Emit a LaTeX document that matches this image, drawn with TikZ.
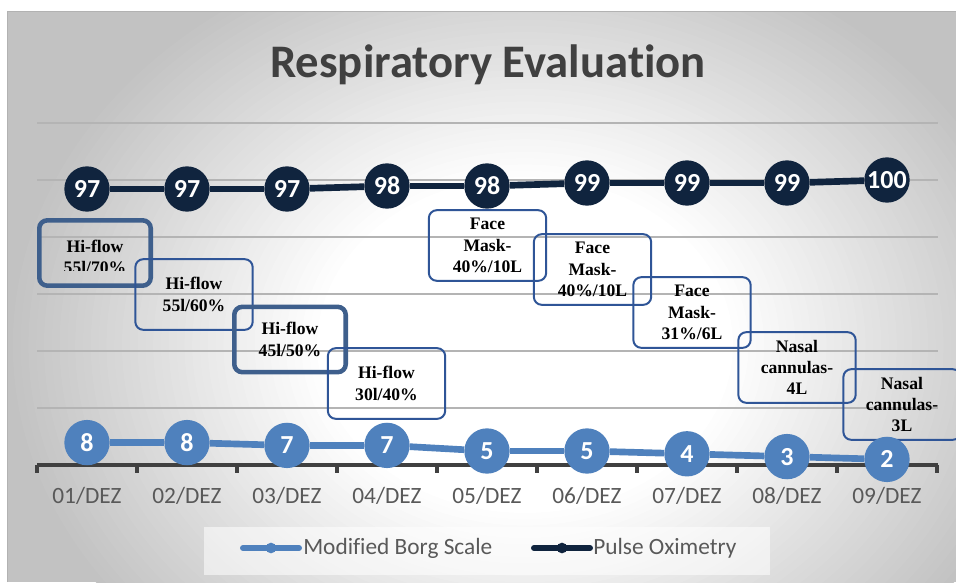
\documentclass[tikz,border=0pt]{standalone}
\usepackage{fontspec}
\setmainfont{Carlito}[Ligatures=NoCommon]
\newfontfamily\notefont{Liberation Serif}
\definecolor{navy}{HTML}{10243E}
\definecolor{borgblue}{HTML}{4F81BD}
\definecolor{notethin}{HTML}{2F5597}
\definecolor{notethick}{HTML}{3E5F8C}
\definecolor{gridgray}{HTML}{B4B4B4}
\definecolor{axisgray}{HTML}{404040}
\definecolor{labelgray}{HTML}{595959}
\definecolor{bggray}{HTML}{C2C2C2}
\begin{document}
\begin{tikzpicture}[x=0.75pt, y=-0.75pt,
	pulsept/.style={circle, fill=navy, text=white, minimum size=34pt, inner sep=0pt, font=\bfseries\fontsize{19.5}{19.5}\selectfont},
	borgpt/.style={pulsept, fill=borgblue},
	pulseline/.style={navy, line width=5pt},
	borgline/.style={borgblue, line width=5pt},
	notebox/.style={draw=notethin, line width=1.5pt, rounded corners=6pt, align=center, inner sep=0pt, font=\notefont\bfseries\fontsize{13.2}{16}\selectfont, text=black, minimum width=88pt, minimum height=53pt},
	notethickbox/.style={notebox, draw=notethick, line width=3.4pt, minimum width=83.6pt, minimum height=49pt},
	ticklabel/.style={anchor=base, text=labelgray, font=\fontsize{17.5}{17.5}\selectfont},
	legendtext/.style={anchor=west, text=labelgray, font=\fontsize{17.5}{17.5}\selectfont}]
		\useasboundingbox (0,0) rectangle (956,582);
		%chart background
		\fill[white] (0,0) rectangle (956,582);
		\begin{scope}
			\clip (7,11) rectangle (956,582);
			\fill[bggray] (7,11) rectangle (956,582);
			\foreach \k in {0, 1, ..., 40}{
				\pgfmathsetmacro\s{1-0.6*\k/40}
				\pgfmathsetmacro\p{\k*2.5}
				\fill[white!\p!bggray] (525,345) ellipse ({520*\s} and {420*\s});
			}
		\end{scope}
		\draw[gray!60] (7,582) -- (7,11) -- (956,11);
		
		\node[anchor=base, text=axisgray, font=\bfseries\fontsize{35}{35}\selectfont] (title) at (488,77) {Respiratory Evaluation};
		
		%grid lines
		\foreach \y in {123, 180, 237, 294, 351, 408}{
			\draw[gridgray, line width=1.1pt] (37, \y)--(938, \y);
		}
		
		%date axis
		\draw[axisgray, line width=2.3pt] (37,465) -- (938,465);
		\foreach \x in {0, 1, 2, ..., 9}{
			\draw[axisgray, line width=2.3pt] (37+100*\x, 465)--(37+100*\x, 473);
		}
		\foreach \i in {1, 2, ..., 9}{
			\node[ticklabel] (d\i) at ({87+100*(\i-1)}, 503) {0\i/DEZ};
		}
		
		%oxygen notes
		\node[notethickbox] (n1) at (95,253) {};
		\begin{scope}
			\clip (40,221) rectangle (150,270.5);
			\node[align=center, font=\notefont\bfseries\fontsize{13.2}{16}\selectfont] (n1t) at (95,257) {Hi-flow\\55l/70\%};
		\end{scope}
		\node[notebox] (n2) at (194,294.5) {Hi-flow\\55l/60\%};
		\node[notethickbox] (n3) at (290,339.5) {Hi-flow\\45l/50\%};
		\node[notebox] (n4) at (386.5,383.5) {Hi-flow\\30l/40\%};
		\node[notebox] (n5) at (487.5,245.5) {Face\\Mask-\\40\%/10L};
		\node[notebox] (n6) at (592.5,269.5) {Face\\Mask-\\40\%/10L};
		\node[notebox] (n7) at (692,312.5) {Face\\Mask-\\31\%/6L};
		\node[notebox] (n8) at (797,367.5) {Nasal\\cannulas-\\4L};
		\node[notebox] (n9) at (902,404.5) {Nasal\\cannulas-\\3L};
		
		%pulse oximetry
		\foreach \v [count=\i] in {97, 97, 97, 98, 98, 99, 99, 99, 100}{
			\node[pulsept] (p\i) at ({87+100*(\i-1)}, {180+3*(100-\v)}) {\v};
		}
		\foreach \i in {1, 2, ..., 8}{
			\pgfmathtruncatemacro\j{\i+1}
			\draw[pulseline] (p\i) -- (p\j);
		}
		
		%modified borg scale
		\foreach \v [count=\i] in {8, 8, 7, 7, 5, 5, 4, 3, 2}{
			\node[borgpt] (b\i) at ({87+100*(\i-1)}, {465-2.8*\v}) {\v};
		}
		\foreach \i in {1, 2, ..., 8}{
			\pgfmathtruncatemacro\j{\i+1}
			\draw[borgline] (b\i) -- (b\j);
		}
		
		%legend
		\fill[white, opacity=0.55] (204,527) rectangle (770,575);
		\coordinate (lb1) at (243,548);
		\coordinate (lb2) at (299,548);
		\draw[borgline, line width=4.5pt, line cap=round] (lb1) -- (lb2);
		\node[circle, fill=borgblue, inner sep=0pt, minimum size=8pt] (lbm) at (271,548) {};
		\node[legendtext, inner sep=0pt] (lbt) at (303,548) {Modified Borg Scale};
		\coordinate (lp1) at (534,548);
		\coordinate (lp2) at (590,548);
		\draw[pulseline, line width=4.5pt, line cap=round] (lp1) -- (lp2);
		\node[circle, fill=navy, inner sep=0pt, minimum size=8pt] (lpm) at (562,548) {};
		\node[legendtext, inner sep=0pt] (lpt) at (593,548) {Pulse Oximetry};
\end{tikzpicture}
\end{document}
